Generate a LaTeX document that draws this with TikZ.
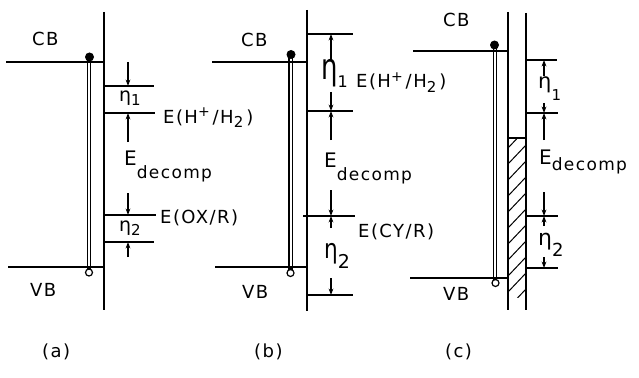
\documentclass[tikz,border=0pt]{standalone}
\usepackage{fontspec}
\newfontfamily\lf[LetterSpace=8]{DejaVu Sans}
\usetikzlibrary{arrows.meta}
\newcommand\fsz[1]{\fontsize{#1}{#1}\selectfont}
\newcommand\subtxt[3]{\raisebox{#1}{\fsz{#2}#3}}
\begin{document}
\begin{tikzpicture}[x=1pt,y=-1pt,
  ln/.style={line width=1.5pt},
  barline/.style={line width=1.1pt},
  dimarrow/.style={line width=1.2pt,-{Stealth[length=6.5pt,width=4.8pt]}},
  lbl/.style={font=\lf\fsz{18},inner sep=0pt,anchor=base west},
  hole/.style={line width=1.2pt,fill=white},
]
\useasboundingbox (0,0) rectangle (639,377);

% ---------------- (a) ----------------
\draw[ln] (104,12) -- (104,310);
\draw[ln] (6,62) -- (104,62);
\draw[ln] (8,267) -- (104,267);
\draw[barline] (87.3,59) rectangle (90.7,268.5);
\fill (89.5,57) circle (4.5);
\draw[hole] (89,272.5) circle (3.5);
\draw[ln] (104,86) -- (154,86);
\draw[ln] (104,113) -- (155,113);
\draw[ln] (104,215) -- (156,215);
\draw[ln] (104,242) -- (154,242);
\coordinate (a0) at (128,62);  \coordinate (a1) at (128,86);
\coordinate (a2) at (128,142); \coordinate (a3) at (128,113);
\coordinate (a4) at (128,193); \coordinate (a5) at (128,215);
\coordinate (a6) at (128,257); \coordinate (a7) at (128,242);
\draw[dimarrow] (a0) -- (a1);
\draw[dimarrow] (a2) -- (a3);
\draw[dimarrow] (a4) -- (a5);
\draw[dimarrow] (a6) -- (a7);
\node[lbl] (cbA) at (32,46) {CB};
\node[lbl] (vbA) at (30,296) {VB};
\node[lbl] (capA) at (42,357) {(a)};
\node[lbl] (etaA1) at (119,102) {\fsz{19}η\subtxt{-4pt}{15}{1}};
\node[lbl] (etaA2) at (119,231) {\fsz{19}η\subtxt{-4pt}{15}{2}};
\node[lbl] (hA) at (163,123) {E(H\subtxt{6.5pt}{14}{+}\,/H\subtxt{-4.5pt}{15}{2}\,)};
\node[lbl] (edA) at (124,165) {\fsz{20}E\subtxt{-13pt}{17}{decomp}};
\node[lbl] (oxA) at (160,223) {E(OX/R)};

% ---------------- (b) ----------------
\draw[ln] (307,10) -- (307,311);
\draw[ln] (212,62) -- (307,62);
\draw[ln] (215,267) -- (307,267);
\draw[barline] (289,57) rectangle (292.4,269);
\fill (291,54.5) circle (4.5);
\draw[hole] (290.5,273) circle (3.5);
\draw[ln] (307,34) -- (353,34);
\draw[ln] (307,111) -- (353,111);
\draw[ln] (303,216) -- (355,216);
\draw[ln] (307,295) -- (353,295);
\coordinate (b0) at (331,60);  \coordinate (b1) at (331,34);
\coordinate (b2) at (331,92);  \coordinate (b3) at (331,111);
\coordinate (b4) at (331,140); \coordinate (b5) at (331,190);
\coordinate (b6) at (331,216); \coordinate (b7) at (331,228);
\coordinate (b8) at (331,278); \coordinate (b9) at (331,295);
\draw[dimarrow] (b0) -- (b1);
\draw[dimarrow] (b2) -- (b3);
\draw[dimarrow] (b4) -- (b3);
\draw[dimarrow] (b5) -- (b6);
\draw[dimarrow] (b7) -- (b6);
\draw[dimarrow] (b8) -- (b9);
\node[lbl] (cbB) at (241,47) {CB};
\node[lbl] (vbB) at (242,298) {VB};
\node[lbl] (capB) at (254,357) {(b)};
\node[lbl] (etaB1) at (321,80) {\scalebox{0.72}[1]{\fsz{36}η}\subtxt{-8pt}{16}{1}};
\node[lbl] (hB) at (356,88) {E(H\subtxt{6.5pt}{14}{+}\,/H\subtxt{-4.5pt}{15}{2}\,)};
\node[lbl] (edB) at (324,167) {\fsz{20}E\subtxt{-13pt}{17}{decomp}};
\node[lbl] (cyB) at (358,237) {E(CY/R)};
\node[lbl] (etaB2) at (324,258) {\scalebox{0.8}[1]{\fsz{27}η}\subtxt{-10pt}{19}{2}};

% ---------------- (c) ----------------
\begin{scope}
  \clip (508,138) rectangle (526,297);
  \foreach \yy in {148,164,...,340} {
    \draw[line width=1pt] (508,\yy) -- (526,\yy-19);
  }
\end{scope}
\draw[line width=1.1pt] (508,138) -- (526,138);
\draw[ln] (508,12) -- (508,310);
\draw[ln] (526,13) -- (526,310);
\draw[ln] (413,51) -- (508,51);
\draw[ln] (410,278) -- (508,278);
\draw[barline] (493.3,47) rectangle (496.7,279);
\fill (494.5,45) circle (4.5);
\draw[hole] (495.5,283) circle (3.5);
\draw[ln] (526,60) -- (557,60);
\draw[ln] (526,113) -- (558,113);
\draw[ln] (526,216) -- (558,216);
\draw[ln] (526,268) -- (558,268);
\coordinate (c0) at (544,76);  \coordinate (c1) at (544,60);
\coordinate (c2) at (544,103); \coordinate (c3) at (544,113);
\coordinate (c4) at (544,140); \coordinate (c5) at (544,192);
\coordinate (c6) at (544,216); \coordinate (c7) at (544,226);
\coordinate (c8) at (544,257); \coordinate (c9) at (544,268);
\draw[dimarrow] (c0) -- (c1);
\draw[dimarrow] (c2) -- (c3);
\draw[dimarrow] (c4) -- (c3);
\draw[dimarrow] (c5) -- (c6);
\draw[dimarrow] (c7) -- (c6);
\draw[dimarrow] (c8) -- (c9);
\node[lbl] (cbC) at (443,27) {CB};
\node[lbl] (vbC) at (443,300) {VB};
\node[lbl] (capC) at (445,357) {(c)};
\node[lbl] (etaC1) at (538,89) {\fsz{21}η\subtxt{-11pt}{15}{1}};
\node[lbl] (edC) at (539,164) {\fsz{20}E\subtxt{-6pt}{17}{decomp}};
\node[lbl] (etaC2) at (538,245) {\fsz{22}η\subtxt{-11pt}{18}{2}};
\end{tikzpicture}
\end{document}
